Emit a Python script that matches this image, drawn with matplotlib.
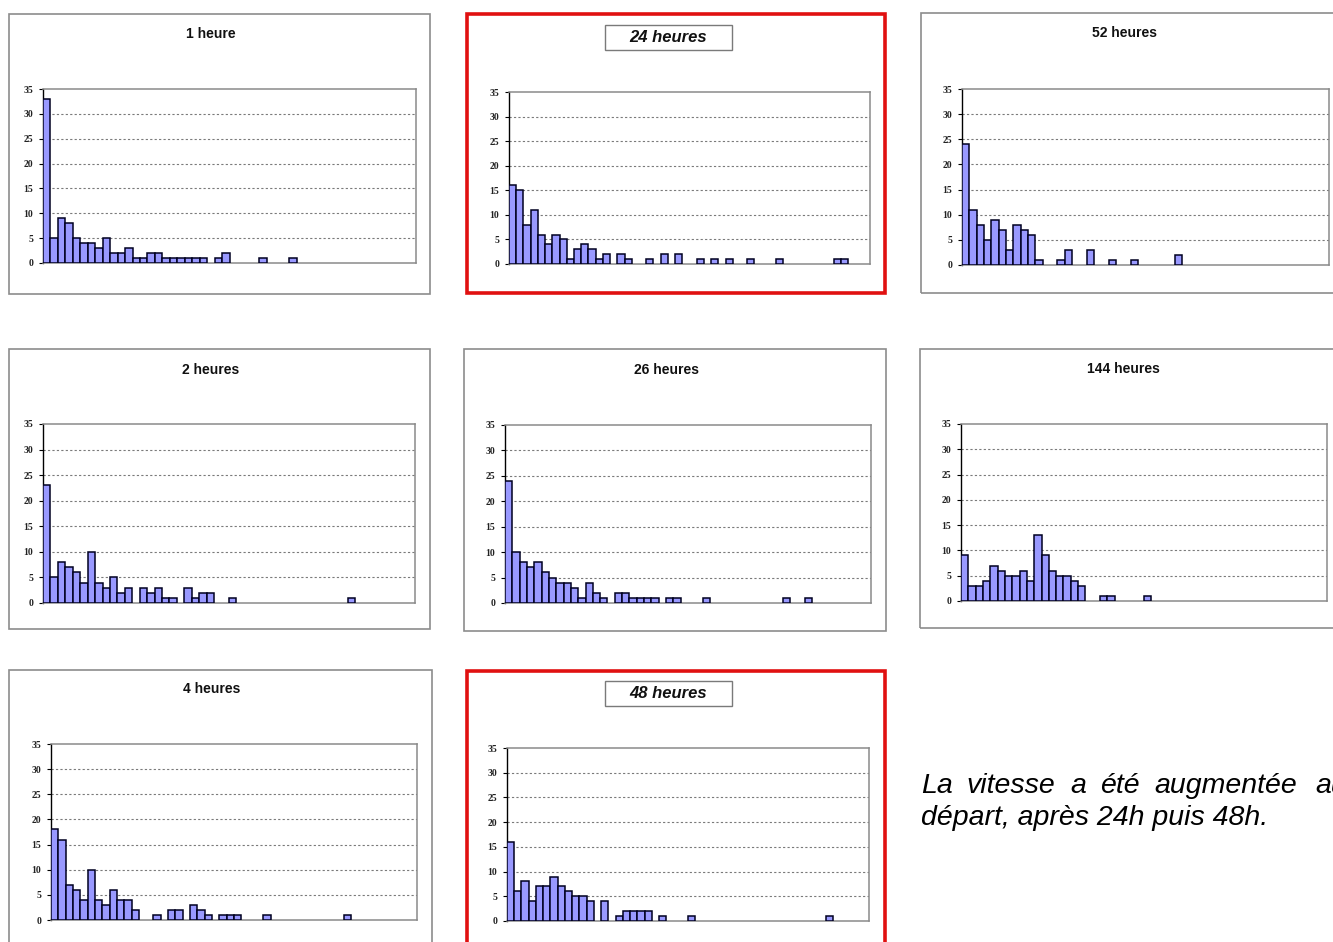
import numpy as np
import matplotlib
matplotlib.use("Agg")
import matplotlib.pyplot as plt
from matplotlib.patches import Rectangle

W, H = 1333, 942

# Histogram classes (50 bins) and y scale
bins = np.arange(50)
yticks = [0, 5, 10, 15, 20, 25, 30, 35]

# Counts per class for each sampling time
counts_1h = [33, 5, 9, 8, 5, 4, 4, 3, 5, 2, 2, 3, 1, 1, 2, 2, 1, 1, 1, 1,
             1, 1, 0, 1, 2, 0, 0, 0, 0, 1, 0, 0, 0, 1, 0, 0, 0, 0, 0, 0,
             0, 0, 0, 0, 0, 0, 0, 0, 0, 0]
counts_2h = [23, 5, 8, 7, 6, 4, 10, 4, 3, 5, 2, 3, 0, 3, 2, 3, 1, 1, 0, 3,
             1, 2, 2, 0, 0, 1, 0, 0, 0, 0, 0, 0, 0, 0, 0, 0, 0, 0, 0, 0,
             0, 1, 0, 0, 0, 0, 0, 0, 0, 0]
counts_4h = [18, 16, 7, 6, 4, 10, 4, 3, 6, 4, 4, 2, 0, 0, 1, 0, 2, 2, 0, 3,
             2, 1, 0, 1, 1, 1, 0, 0, 0, 1, 0, 0, 0, 0, 0, 0, 0, 0, 0, 0,
             1, 0, 0, 0, 0, 0, 0, 0, 0, 0]
counts_24h = [16, 15, 8, 11, 6, 4, 6, 5, 1, 3, 4, 3, 1, 2, 0, 2, 1, 0, 0, 1,
              0, 2, 0, 2, 0, 0, 1, 0, 1, 0, 1, 0, 0, 1, 0, 0, 0, 1, 0, 0,
              0, 0, 0, 0, 0, 1, 1, 0, 0, 0]
counts_26h = [24, 10, 8, 7, 8, 6, 5, 4, 4, 3, 1, 4, 2, 1, 0, 2, 2, 1, 1, 1,
              1, 0, 1, 1, 0, 0, 0, 1, 0, 0, 0, 0, 0, 0, 0, 0, 0, 0, 1, 0,
              0, 1, 0, 0, 0, 0, 0, 0, 0, 0]
counts_48h = [16, 6, 8, 4, 7, 7, 9, 7, 6, 5, 5, 4, 0, 4, 0, 1, 2, 2, 2, 2,
              0, 1, 0, 0, 0, 1, 0, 0, 0, 0, 0, 0, 0, 0, 0, 0, 0, 0, 0, 0,
              0, 0, 0, 0, 1, 0, 0, 0, 0, 0]
counts_52h = [24, 11, 8, 5, 9, 7, 3, 8, 7, 6, 1, 0, 0, 1, 3, 0, 0, 3, 0, 0,
              1, 0, 0, 1, 0, 0, 0, 0, 0, 2, 0, 0, 0, 0, 0, 0, 0, 0, 0, 0,
              0, 0, 0, 0, 0, 0, 0, 0, 0, 0]
counts_144h = [9, 3, 3, 4, 7, 6, 5, 5, 6, 4, 13, 9, 6, 5, 5, 4, 3, 0, 0, 1,
               1, 0, 0, 0, 0, 1, 0, 0, 0, 0, 0, 0, 0, 0, 0, 0, 0, 0, 0, 0,
               0, 0, 0, 0, 0, 0, 0, 0, 0, 0]

note_line1 = ["La", "vitesse", "a", "été", "augmentée", "au"]
note_line2 = "départ, après 24h puis 48h."

# Page layout in pixels: frame box, title centre, plot area (x0, y0, x1, y1)
panels = [
    dict(title="1 heure", counts=counts_1h, box=(9, 14, 430, 294),
         tpos=(211, 34), plot=(43, 89, 416, 263), hl=False),
    dict(title="24 heures", counts=counts_24h, box=(467, 14, 885, 293),
         tpos=(668, 38), plot=(509, 92, 870, 264), hl=True),
    dict(title="52 heures", counts=counts_52h, box=(921, 13, 1345, 293),
         tpos=(1124, 33), plot=(962, 89, 1329, 265), hl=False),
    dict(title="2 heures", counts=counts_2h, box=(9, 349, 430, 629),
         tpos=(211, 370), plot=(43, 424, 415, 603), hl=False),
    dict(title="26 heures", counts=counts_26h, box=(464, 349, 886, 631),
         tpos=(666, 370), plot=(505, 425, 871, 603), hl=False),
    dict(title="144 heures", counts=counts_144h, box=(920, 349, 1345, 628),
         tpos=(1123, 369), plot=(961, 424, 1327, 601), hl=False),
    dict(title="4 heures", counts=counts_4h, box=(9, 670, 432, 960),
         tpos=(212, 689), plot=(51, 744, 417, 920), hl=False),
    dict(title="48 heures", counts=counts_48h, box=(467, 671, 885, 960),
         tpos=(668, 694), plot=(507, 748, 869, 921), hl=True),
]

fig = plt.figure(figsize=(W / 100, H / 100), dpi=100)
fig.patch.set_facecolor("white")


def frac_rect(x0, y0, x1, y1):
    return [x0 / W, 1 - y1 / H, (x1 - x0) / W, (y1 - y0) / H]


def add_box(x0, y0, x1, y1, color, lw, fill=False):
    r = Rectangle((x0 / W, 1 - y1 / H), (x1 - x0) / W, (y1 - y0) / H,
                  transform=fig.transFigure, fill=fill, facecolor="white",
                  edgecolor=color, linewidth=lw, zorder=1)
    fig.add_artist(r)


for p in panels:
    x0, y0, x1, y1 = p["box"]
    if p["hl"]:
        add_box(x0, y0, x1, y1, "#e01010", 2.6)
    else:
        add_box(x0, y0, x1, y1, "#8c8c8c", 1.2)

    ax = fig.add_axes(frac_rect(*p["plot"]))
    vals = np.asarray(p["counts"])
    nz = vals > 0
    ax.bar(bins[nz], vals[nz], width=1.0, align="edge", color="#9999ff",
           edgecolor="#000020", linewidth=1.1, zorder=3)
    ax.set_xlim(0, 50)
    ax.set_ylim(0, 35)
    ax.set_yticks(yticks)
    ax.set_yticklabels([str(v) for v in yticks], fontfamily="Liberation Serif",
                       fontweight="bold", fontsize=7, color="#222222")
    ax.set_xticks([])
    ax.tick_params(axis="y", direction="out", length=3, width=0.8,
                   color="#000000", pad=4)
    ax.set_axisbelow(True)
    for v in yticks[1:-1]:
        ax.axhline(v, color="#7a7a7a", linewidth=0.8, linestyle=(0, (2, 2)),
                   zorder=1)
    for side in ("top", "right", "bottom"):
        ax.spines[side].set_color("#8a8a8a")
        ax.spines[side].set_linewidth(1.1)
    ax.spines["left"].set_color("#000000")
    ax.spines["left"].set_linewidth(1.0)

    tx, ty = p["tpos"]
    if p["hl"]:
        add_box(605 + (tx - 668), ty - 13, 732 + (tx - 668), ty + 12,
                "#7a7a7a", 1.0, fill=True)
        fig.text(tx / W, 1 - ty / H, p["title"], ha="center", va="center",
                 fontfamily="Liberation Sans", fontweight="bold",
                 fontstyle="italic", fontsize=12, color="#111111", zorder=5)
    else:
        fig.text(tx / W, 1 - ty / H, p["title"], ha="center", va="center",
                 fontfamily="Liberation Sans", fontweight="bold",
                 fontsize=10, color="#111111")

# Side note, first line justified word by word
word_x = [921, 966, 1070, 1100, 1154, 1315]
for w, x in zip(note_line1, word_x):
    fig.text(x / W, 1 - 793 / H, w, ha="left", va="baseline",
             fontfamily="Liberation Sans", fontstyle="italic", fontsize=20.5,
             color="#000000")
fig.text(921 / W, 1 - 825 / H, note_line2, ha="left", va="baseline",
         fontfamily="Liberation Sans", fontstyle="italic", fontsize=20.5,
         color="#000000")

fig.savefig("out.png", dpi=100, facecolor="white")
